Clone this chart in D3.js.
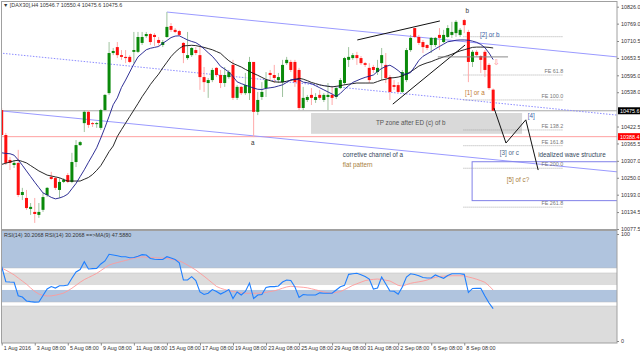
<!DOCTYPE html>
<html><head><meta charset="utf-8">
<script src="https://cdn.jsdelivr.net/npm/d3@7"></script>
<style>body{margin:0;background:#fff;}svg{display:block;font-family:"Liberation Sans",Arial,sans-serif;}</style>
</head><body><svg id="c" width="640" height="355"></svg>
<script>
// ---- data ----
const open=[10478,10394,10310,10293,10300,10192,10182,10145,10135,10125,
10142,10192,10253,10249,10209,10236,10259,10236,10303,10360,
10434,10472,10434,10431,10418,10478,10535,10670,10690,10663,
10657,10657,10674,10674,10704,10727,10734,10731,10714,10697,
10724,10761,10748,10744,10704,10653,10663,10680,10663,10589,
10569,10579,10620,10596,10569,10589,10630,10519,10556,10535,
10535,10640,10472,10522,10552,10603,10596,10579,10572,10636,
10640,10640,10613,10485,10512,10529,10512,10529,10512,10522,
10529,10522,10552,10569,10647,10653,10663,10653,10636,10620,
10623,10606,10636,10630,10589,10562,10562,10539,10579,10680,
10754,10724,10707,10697,10697,10697,10731,10707,10724,10731,
10737,10731,10781,10741,10640,10674,10660,10674,10630,10546.7];
const high=[10485,10401,10320,10310,10344,10216,10209,10165,10182,10165,
10199,10219,10270,10253,10249,10249,10266,10334,10377,10374,
10478,10478,10438,10438,10482,10532,10707,10687,10707,10680,
10680,10663,10741,10741,10741,10741,10737,10737,10724,10714,
10808,10771,10754,10748,10707,10741,10690,10690,10690,10623,
10586,10620,10623,10613,10623,10613,10647,10562,10559,10603,
10657,10640,10539,10572,10606,10613,10630,10603,10647,10657,
10647,10647,10620,10556,10529,10552,10535,10546,10535,10569,
10556,10559,10586,10657,10690,10670,10674,10660,10640,10636,
10630,10647,10687,10670,10596,10579,10572,10613,10687,10731,
10754,10731,10714,10700,10724,10724,10754,10748,10764,10775,
10781,10754,10785,10748,10680,10680,10663,10680,10636,10550.4];
const low=[10390,10293,10276,10283,10185,10175,10142,10125,10098,10115,
10135,10185,10243,10209,10182,10232,10232,10232,10286,10357,
10404,10418,10421,10418,10411,10475,10529,10663,10653,10647,
10636,10636,10636,10670,10697,10721,10697,10694,10694,10690,
10721,10741,10737,10727,10636,10647,10657,10663,10546,10539,
10519,10572,10589,10552,10556,10583,10512,10512,10529,10529,
10512,10387,10461,10512,10522,10579,10569,10569,10522,10630,
10606,10556,10478,10478,10505,10495,10502,10512,10505,10478,
10495,10515,10549,10562,10623,10647,10630,10630,10623,10569,
10603,10596,10579,10569,10512,10546,10535,10535,10572,10674,
10721,10697,10670,10680,10670,10690,10680,10704,10721,10721,
10724,10724,10737,10572,10623,10657,10603,10589,10546,10475.6];
const close=[10394,10300,10300,10300,10192,10202,10148,10152,10128,10135,
10185,10216,10246,10216,10236,10243,10236,10303,10360,10370,
10472,10428,10431,10434,10478,10529,10670,10677,10663,10657,
10653,10640,10680,10724,10724,10734,10707,10724,10704,10707,
10758,10748,10741,10731,10670,10663,10687,10670,10589,10572,
10579,10613,10596,10569,10596,10606,10519,10556,10535,10562,
10640,10472,10512,10539,10579,10596,10586,10589,10630,10647,
10613,10572,10485,10519,10522,10519,10522,10519,10529,10529,
10519,10552,10579,10653,10657,10663,10653,10636,10630,10579,
10613,10620,10663,10586,10539,10556,10539,10606,10680,10721,
10724,10704,10690,10687,10721,10721,10721,10731,10754,10741,
10775,10748,10764,10640,10674,10663,10647,10613,10552,10475.6];
const maFast=[10334,10332,10331,10326,10310,10292,10273,10254,10235,10217,
10199,10192,10184,10179,10182,10187,10195,10213,10231,10254,
10277,10302,10326,10351,10384,10419,10457,10496,10519,10554,
10579,10606,10633,10657,10669,10681,10686,10689,10692,10703,
10712,10722,10727,10728,10721,10714,10709,10705,10696,10684,
10671,10659,10643,10625,10616,10606,10591,10573,10567,10562,
10557,10552,10548,10547,10551,10553,10555,10559,10563,10571,
10580,10582,10580,10572,10570,10567,10560,10553,10546,10539,
10532,10524,10534,10548,10560,10571,10577,10583,10588,10592,
10596,10608,10618,10625,10629,10621,10611,10599,10599,10604,
10624,10645,10659,10667,10675,10684,10692,10700,10708,10710,
10713,10714,10714,10713,10710,10706,10699,10688,10670,10648];
const maSlow=[10295,10299,10303,10307,10309,10305,10300,10291,10282,10273,
10266,10259,10256,10253,10250,10244,10239,10239,10239,10239,
10245,10251,10261,10275,10291,10314,10338,10357,10389,10412,
10434,10456,10478,10500,10523,10543,10564,10582,10599,10620,
10639,10658,10673,10685,10694,10695,10696,10695,10692,10689,
10685,10681,10675,10669,10656,10644,10635,10629,10623,10615,
10608,10601,10595,10588,10581,10577,10573,10572,10572,10575,
10578,10581,10585,10582,10577,10571,10567,10563,10560,10558,
10556,10558,10560,10563,10565,10567,10569,10569,10569,10569,
10569,10574,10579,10582,10586,10587,10589,10593,10599,10607,
10616,10626,10632,10637,10641,10647,10652,10657,10661,10666,
10672,10677,10681,10685,10689,10690,10690,10690,10689,10687];
const rsi=[69.4,55.4,55.1,54.9,42.3,41.1,37.4,36.8,36.3,36.4,
42.5,48.6,50.9,49.5,51.7,51.7,52.3,58.6,64.5,66.8,
74.1,67.3,67.6,67.9,72.0,74.8,81.0,80.4,79.6,78.8,
78.8,77.8,78.0,79.3,80.7,80.4,77.1,76.4,76.1,76.2,
78.8,77.6,76.2,73.1,57.0,57.0,60.1,56.5,45.8,43.5,
44.6,48.1,46.3,43.9,45.8,48.1,39.7,45.8,43.0,46.3,
54.2,39.7,43.0,43.5,50.0,50.8,50.8,51.4,55.1,57.0,
56.5,50.5,40.7,43.5,43.0,43.0,43.0,45.0,44.6,44.6,
44.6,47.7,50.7,52.0,62.3,62.8,63.3,61.9,60.3,57.9,
48.6,49.5,59.8,53.3,46.7,46.5,43.7,50.5,59.8,62.8,
62.1,60.9,59.3,58.9,58.9,61.7,60.0,58.6,61.2,62.8,
62.8,62.9,62.3,45.3,49.1,49.3,49.2,42.1,35.5,30.2];
const rsiMa=[68.2,66.2,64.1,61.8,58.9,56.0,53.1,49.6,46.3,43.9,
42.6,42.1,42.2,42.8,43.7,44.8,46.9,49.3,52.1,54.9,
57.4,59.3,61.2,63.2,65.8,68.4,71.0,72.3,73.3,74.3,
75.3,76.3,77.3,78.3,78.7,78.3,78.0,77.9,77.6,77.5,
77.3,76.4,75.7,75.0,73.1,70.9,68.7,66.3,63.4,60.5,
57.4,54.2,51.0,49.3,48.1,47.0,46.3,45.6,44.9,44.6,
44.6,44.6,44.6,44.9,45.5,46.2,46.9,48.0,49.3,50.5,
51.2,50.8,50.5,50.2,49.7,48.8,47.9,46.8,45.9,45.0,
44.9,45.5,46.2,48.0,50.0,52.0,53.5,55.0,56.4,57.2,
57.6,57.9,57.5,56.8,56.1,54.1,52.0,51.3,52.7,53.9,
54.7,55.3,56.0,57.0,58.3,59.5,60.3,60.6,60.8,61.0,
61.0,61.0,60.9,59.8,58.9,57.7,56.4,54.8,51.6,47.6];
const timeLabels=["1 Aug 2016","3 Aug 08:00","5 Aug 08:00","9 Aug 08:00","11 Aug 08:00","15 Aug 08:00","17 Aug 08:00","19 Aug 08:00","23 Aug 08:00","25 Aug 08:00","29 Aug 08:00","31 Aug 08:00","2 Sep 08:00","6 Sep 08:00","8 Sep 08:00"];
const timeTickBars=[0,8,16,24,32,40,48,56,64,72,80,88,96,104,112];
const priceTicks=[10826.0,10769.0,10710.5,10653.5,10595.0,10538.0,10422.5,10365.5,10307.0,10250.0,10193.0,10134.5,10077.5];
const lastPrice=10475.6, redLevel=10388.4;
const feLabels=["","FE 61.8","FE 100.0","FE 138.2","FE 161.8","FE 200.0","FE 261.8"];
const feLevels=[10725,10596,10512,10411,10358,10282,10151];
const rsiLevels=[68.2,63.6,52.3,47.7,36.4,32.7];
// annotation anchors in (bar, price)
const upperChannel=[[40,10808],[149,10657]];
const lowerChannel=[[0,10475],[149,10270]];
const midChannel=[[-0.4,10670],[149,10461]];
const wedgeUpper=[[86.1,10714],[106.1,10778]];
const wedgeLower=[[94.7,10498],[112.2,10697]];
const grayLevel=[[105.6,10657],[122.6,10657]];
const wavePath=[[119.2,10485],[122.1,10367],[126.9,10445],[129.9,10276]];
const tpZone=[[74.9,10468],[126,10398]];
const targetBox=[[113.9,10304],[149.6,10173]];
const feRange=[111.8,136];

// ---- drawing ----
const svg=d3.select("#c");
const L=1.5,R=617,T=1.5,B=229.5,RT=230.5,RB=343;
const x=d3.scaleLinear().domain([0,119]).range([1.7,1.7+119*4.13]);
const y=d3.scaleLinear().domain([10077.5,10826]).range([229,6.7]);
const yr=d3.scaleLinear().domain([0,100]).range([341,234]);

svg.append("defs").append("clipPath").attr("id","cm").append("rect").attr("x",L).attr("y",T).attr("width",R-L).attr("height",B-T);
svg.select("defs").append("clipPath").attr("id","cr").append("rect").attr("x",L).attr("y",RT).attr("width",R-L).attr("height",RB-RT);

// RSI panel bands
const rp=svg.append("g").attr("clip-path","url(#cr)");
const bands=[[110,rsiLevels[0],"#b0c4de"],[rsiLevels[1],rsiLevels[2],"#dcdcdc"],[rsiLevels[3],rsiLevels[4],"#b0c4de"],[rsiLevels[5],-10,"#dcdcdc"]];
rp.selectAll("rect.b").data(bands).join("rect").attr("x",L).attr("width",R-L)
  .attr("y",d=>yr(d[0])).attr("height",d=>yr(d[1])-yr(d[0])).attr("fill",d=>d[2]);
[rsiLevels[0],rsiLevels[1],rsiLevels[4],rsiLevels[5]].forEach(v=>{
  rp.append("line").attr("x1",L).attr("x2",R).attr("y1",yr(v)).attr("y2",yr(v))
    .attr("stroke","#b8b8b8").attr("stroke-width",0.8).attr("stroke-dasharray","1,1");
});
const lr=d3.line().x((d,i)=>x(i)).y(d=>yr(d));
rp.append("path").datum(rsiMa).attr("d",lr).attr("fill","none").attr("stroke","#ff9a9a").attr("stroke-width",0.9);
rp.append("path").datum(rsi).attr("d",lr).attr("fill","none").attr("stroke","#1e7fff").attr("stroke-width",1.1);
svg.append("text").attr("x",4).attr("y",236.5).attr("font-size",5.4).attr("fill","#333")
  .text("RSI(14) 30.2068  RSI(14) 30.2068  ==>MA(9) 47.5880");

// main panel
const g=svg.append("g").attr("clip-path","url(#cm)");
const X=p=>x(p[0]), Y=p=>y(p[1]);
const seg=(pts,col,w,dash)=>g.append("path").attr("d",d3.line().x(X).y(Y)(pts)).attr("fill","none")
  .attr("stroke",col).attr("stroke-width",w).attr("stroke-dasharray",dash||null);

// TP zone
g.append("rect").attr("x",X(tpZone[0])).attr("y",Y(tpZone[0])).attr("width",X(tpZone[1])-X(tpZone[0]))
  .attr("height",Y(tpZone[1])-Y(tpZone[0])).attr("fill","#d9d9d9");
// horizontal levels
g.append("line").attr("x1",L).attr("x2",R).attr("y1",y(lastPrice)).attr("y2",y(lastPrice)).attr("stroke","#a8a8a8").attr("stroke-width",1);
g.append("line").attr("x1",L).attr("x2",R).attr("y1",y(redLevel)).attr("y2",y(redLevel)).attr("stroke","#ffa0a0").attr("stroke-width",1);
// channels
seg(upperChannel,"#9a9aff",1);
seg(lowerChannel,"#9a9aff",1);
seg(midChannel,"#8c8cff",1,"1.5,1.5");
// target box
g.append("rect").attr("x",X(targetBox[0])).attr("y",Y(targetBox[0])).attr("width",X(targetBox[1])-X(targetBox[0]))
  .attr("height",Y(targetBox[1])-Y(targetBox[0])).attr("fill","none").attr("stroke","#8080e8").attr("stroke-width",1);
// FE levels
feLevels.forEach((v,i)=>{
  g.append("line").attr("x1",x(feRange[0])).attr("x2",x(feRange[1])).attr("y1",y(v)).attr("y2",y(v))
    .attr("stroke","#999").attr("stroke-width",0.8).attr("stroke-dasharray","1,1");
  if(feLabels[i]) g.append("text").attr("x",x(feRange[1])).attr("y",y(v)-1.8).attr("text-anchor","end")
    .attr("font-size",5.4).attr("fill","#777").text(feLabels[i]);
});

// candles
const idx=d3.range(close.length);
const up=i=>close[i]>=open[i];
g.selectAll("line.w").data(idx).join("line").attr("x1",i=>x(i)).attr("x2",i=>x(i))
  .attr("y1",i=>y(high[i])).attr("y2",i=>y(low[i])).attr("stroke",i=>up(i)?"#9fc39f":"#ffaaaa").attr("stroke-width",1);
g.selectAll("rect.c").data(idx).join("rect").attr("x",i=>x(i)-1.5).attr("width",3)
  .attr("y",i=>y(Math.max(open[i],close[i])))
  .attr("height",i=>Math.max(1,y(Math.min(open[i],close[i]))-y(Math.max(open[i],close[i]))))
  .attr("fill",i=>up(i)?"#0a8a0a":"#ff1010");

// moving averages
const lm=d3.line().x((d,i)=>x(i)).y(d=>y(d));
g.append("path").datum(maSlow).attr("d",lm).attr("fill","none").attr("stroke","#111").attr("stroke-width",0.9);
g.append("path").datum(maFast).attr("d",lm).attr("fill","none").attr("stroke","#1a1a8a").attr("stroke-width",0.9);

// wedge, gray level, wave path
seg(wedgeUpper,"#111",1);
seg(wedgeLower,"#111",1);
seg(grayLevel,"#8a8a8a",1);
seg(wavePath,"#111",1);

// labels
const lab=(b,p,t,col,anchor,fs)=>g.append("text").attr("x",x(b)).attr("y",y(p)).attr("dy","0.35em")
  .attr("text-anchor",anchor||"start").attr("font-size",fs||6.3).attr("fill",col).text(t);
lab(112.7,10812,"b","#333","middle");
lab(60.8,10367,"a","#333","middle");
lab(115.8,10731,"[2] or b","#3c64a8");
lab(112.2,10535,"[1] or a","#c27a34");
lab(90.6,10434,"TP zone after ED (c) of b","#555");
lab(127.4,10458,"[4]","#3c64a8");
lab(120.6,10333,"[3] or c","#4a6a8a");
lab(129.9,10327,"idealized wave structure","#34485e");
lab(122.3,10243,"[5] of c?","#a87e3c");
lab(82.6,10327,"corretive channel of a","#34485e");
lab(82.6,10293,"flat pattern","#a87e3c");
lab(119.9,10640,"\u21E9","#ff8080","middle",8);

// title
svg.append("text").attr("x",3).attr("y",7).attr("font-size",5.4).attr("fill","#333")
  .text("\u25BC [DAX30],H4  10546.7 10550.4 10475.6 10475.6");

// frames
svg.append("rect").attr("x",L).attr("y",T).attr("width",R-L).attr("height",B-T).attr("fill","none").attr("stroke","#a0a0a0");
svg.append("rect").attr("x",L).attr("y",RT).attr("width",R-L).attr("height",RB-RT).attr("fill","none").attr("stroke","#a0a0a0");

// price axis
const ay=svg.append("g").attr("transform",`translate(${R},0)`)
  .call(d3.axisRight(y).tickValues(priceTicks).tickFormat(d3.format(".1f")).tickSize(2).tickPadding(2));
ay.select(".domain").remove();
ay.selectAll("text").attr("font-size",5.4).attr("fill","#333").attr("font-family","Liberation Sans,Arial,sans-serif");
ay.selectAll("line").attr("stroke","#888");
const box=(v,bg)=>{svg.append("rect").attr("x",R+1).attr("y",y(v)-3.5).attr("width",23).attr("height",7).attr("fill",bg);
  svg.append("text").attr("x",R+3).attr("y",y(v)).attr("dy","0.35em").attr("font-size",5.4).attr("fill","#fff").text(d3.format(".1f")(v));};
box(lastPrice,"#000");
box(redLevel,"#ff0000");

// RSI axis
const ar=svg.append("g").attr("transform",`translate(${R},0)`)
  .call(d3.axisRight(yr).tickValues([0,100]).tickFormat(d3.format("d")).tickSize(2).tickPadding(2));
ar.select(".domain").remove();
ar.selectAll("text").attr("font-size",5.4).attr("fill","#333").attr("font-family","Liberation Sans,Arial,sans-serif");
ar.selectAll("line").attr("stroke","#888");

// time axis
const ax=svg.append("g").attr("transform",`translate(0,${RB})`)
  .call(d3.axisBottom(x).tickValues(timeTickBars).tickFormat((d,i)=>timeLabels[i]).tickSize(2.5).tickPadding(1));
ax.select(".domain").remove();
ax.selectAll("text").attr("font-size",5.4).attr("fill","#333").attr("text-anchor","start").attr("dx","0.3em")
  .attr("font-family","Liberation Sans,Arial,sans-serif");
ax.selectAll("line").attr("stroke","#888");
</script></body></html>
